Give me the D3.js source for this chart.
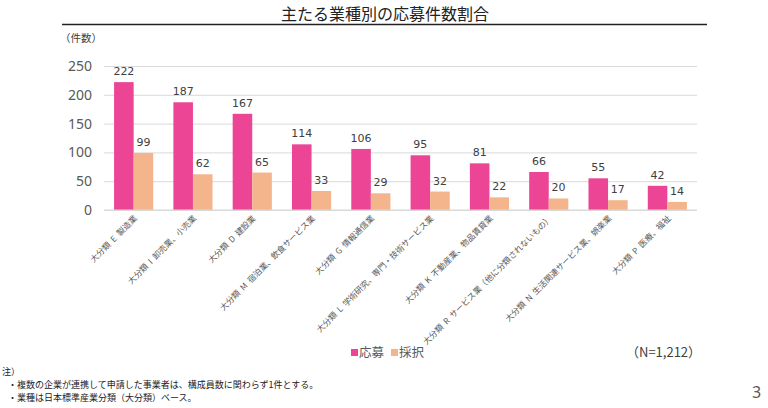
<!DOCTYPE html>
<html><head><meta charset="utf-8">
<script src="https://cdn.jsdelivr.net/npm/d3@7"></script>
<style>
html,body{margin:0;padding:0;background:#fff;}
svg{display:block;}
text{font-family:"Noto Sans CJK JP","Noto Sans",sans-serif;}
</style></head>
<body>
<svg id="chart" width="768" height="408"></svg>
<script>
const categories = [
  "大分類 E 製造業",
  "大分類 I 卸売業、小売業",
  "大分類 D 建設業",
  "大分類 M 宿泊業、飲食サービス業",
  "大分類 G 情報通信業",
  "大分類 L 学術研究、専門・技術サービス業",
  "大分類 K 不動産業、物品賃貸業",
  "大分類 R サービス業（他に分類されないもの）",
  "大分類 N 生活関連サービス業、娯楽業",
  "大分類 P 医療、福祉"
];
const seriesNames = ["応募", "採択"];
const applied = [222, 187, 167, 114, 106, 95, 81, 66, 55, 42];
const adopted = [99, 62, 65, 33, 29, 32, 22, 20, 17, 14];
const yTicks = [0, 50, 100, 150, 200, 250];
const colors = ["#EC4596", "#F4B48C"];

const svg = d3.select("#chart");
const x0 = d3.scaleBand().domain(categories).range([104, 697]).paddingInner(0.34).paddingOuter(0.17);
const x1 = d3.scaleBand().domain(seriesNames).range([0, x0.bandwidth()]);
const y = d3.scaleLinear().domain([0, 250]).range([210, 66]);

// title
svg.append("text").attr("x", 385).attr("y", 20).attr("text-anchor", "middle")
  .attr("font-size", 16).attr("fill", "#222").text("主たる業種別の応募件数割合");
svg.append("line").attr("x1", 62).attr("x2", 707).attr("y1", 24.5).attr("y2", 24.5)
  .attr("stroke", "#222").attr("stroke-width", 1.6);
svg.append("text").attr("x", 60).attr("y", 42).attr("font-size", 10.5).attr("fill", "#404040").text("（件数）");

// grid
const gAxis = svg.append("g").attr("transform", "translate(104,0)")
  .call(d3.axisLeft(y).tickValues(yTicks).tickSize(-(697 - 104)).tickPadding(12));
gAxis.select(".domain").remove();
gAxis.selectAll(".tick line").attr("stroke", "#d9d9d9").attr("stroke-width", 1);
gAxis.selectAll(".tick text").attr("font-size", 14).attr("fill", "#595959")
  .style("font-family", "'Noto Sans','DejaVu Sans',sans-serif");

// bars
const rows = categories.map((c, i) => ({c, vals: [applied[i], adopted[i]]}));
const groups = svg.append("g").selectAll("g").data(rows).join("g")
  .attr("transform", d => `translate(${x0(d.c)},0)`);
groups.selectAll("rect").data(d => d.vals.map((v, j) => ({k: seriesNames[j], v, j})))
  .join("rect")
  .attr("x", d => x1(d.k)).attr("width", x1.bandwidth())
  .attr("y", d => y(d.v)).attr("height", d => y(0) - y(d.v))
  .attr("fill", d => colors[d.j]);
groups.selectAll("text.val").data(d => d.vals.map((v, j) => ({k: seriesNames[j], v, j})))
  .join("text").attr("class", "val")
  .attr("x", d => x1(d.k) + x1.bandwidth() / 2)
  .attr("y", d => y(d.v) - 7)
  .attr("text-anchor", "middle").attr("font-size", 11).attr("fill", "#404040")
  .style("font-family", "'DejaVu Sans','Noto Sans',sans-serif")
  .text(d => d.v);

// baseline
svg.append("line").attr("x1", 104).attr("x2", 697).attr("y1", y(0)).attr("y2", y(0))
  .attr("stroke", "#d9d9d9");

// category labels
svg.append("g").selectAll("text").data(categories).join("text")
  .attr("transform", d => `translate(${x0(d) + x0.bandwidth() / 2 + 4},${219}) rotate(-45)`)
  .attr("text-anchor", "end").attr("font-size", 8.3).attr("fill", "#595959")
  .style("white-space", "pre")
  .text(d => d.replace(/ ([A-Z]) /, "  $1  "));

// legend
const lg = svg.append("g").attr("transform", "translate(351,349)");
seriesNames.forEach((s, i) => {
  const gx = i * 40;
  lg.append("rect").attr("x", gx).attr("y", 0).attr("width", 7).attr("height", 7).attr("fill", colors[i]);
  lg.append("text").attr("x", gx + 8).attr("y", 8).attr("font-size", 12.5).attr("fill", "#595959").text(s);
});
svg.append("text").attr("x", 626).attr("y", 357).attr("font-size", 13).attr("fill", "#404040")
  .text("（N=1,212）");

// notes
svg.append("text").attr("x", 2).attr("y", 375).attr("font-size", 9).attr("fill", "#222").text("注）");
svg.append("text").attr("x", 8).attr("y", 388).attr("font-size", 9).attr("fill", "#222")
  .text("・複数の企業が連携して申請した事業者は、構成員数に関わらず1件とする。");
svg.append("text").attr("x", 8).attr("y", 401).attr("font-size", 9).attr("fill", "#222")
  .text("・業種は日本標準産業分類（大分類）ベース。");
svg.append("text").attr("x", 752).attr("y", 398).attr("font-size", 16).attr("fill", "#595959")
  .style("font-family", "'Noto Sans',sans-serif").text("3");
</script>
</body></html>
